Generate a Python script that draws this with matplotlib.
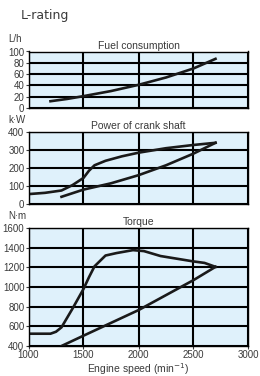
import numpy as np
import matplotlib.pyplot as plt

plt.rcParams['font.family'] = ['Liberation Sans', 'DejaVu Sans']

# fuel consumption (L/h)
fuel_rpm = [1200, 1350, 1500, 1750, 2000, 2250, 2500, 2700]
fuel_val = [12, 16, 21, 30, 41, 54, 70, 87]

# power of crank shaft (kW) - upper and lower curves
pow_up_rpm = [1000, 1150, 1300, 1400, 1500, 1550, 1600, 1700, 1850, 2000, 2250, 2500, 2700]
pow_up_val = [55, 62, 75, 105, 145, 185, 215, 240, 265, 285, 310, 328, 340]
pow_lo_rpm = [1300, 1500, 1750, 2000, 2250, 2500, 2700]
pow_lo_val = [40, 80, 115, 160, 215, 280, 340]

# torque (N.m)
tq_up_rpm = [1000, 1200, 1250, 1300, 1400, 1500, 1550, 1600, 1700, 1800, 1950, 2050, 2200, 2500, 2600, 2700]
tq_up_val = [525, 525, 545, 590, 780, 980, 1100, 1210, 1320, 1345, 1375, 1365, 1315, 1260, 1245, 1205]
tq_lo_rpm = [1300, 1500, 2000, 2500, 2700]
tq_lo_val = [400, 505, 765, 1070, 1205]

W, H = 260, 376
fig = plt.figure(figsize=(W / 100, H / 100), dpi=100)
txt = '#3a3a3a'
fill = '#dff1fb'
fs = 7

def panel(top, bot, ylim, yticks, title, unit, showx=False):
    ax = fig.add_axes([28.5 / W, 1 - bot / H, 220 / W, (bot - top) / H])
    ax.set_facecolor(fill)
    ax.set_xlim(1000, 3000)
    ax.set_ylim(*ylim)
    ax.set_xticks([1000, 1500, 2000, 2500, 3000])
    ax.set_yticks(yticks)
    ax.grid(True, color='black', lw=1.5)
    ax.set_axisbelow(True)
    for s in ax.spines.values():
        s.set_color('black')
        s.set_linewidth(1.0)
    ax.tick_params(labelsize=fs, colors=txt, length=2, width=0.8, pad=1)
    if not showx:
        ax.tick_params(axis='x', labelbottom=False, length=0)
    ax.set_title(title, fontsize=fs + 0.5, color=txt, pad=2)
    # unit label sits above the y tick labels
    fig.text(8 / W, 1 - (top - 7) / H, unit, fontsize=fs, color=txt, ha='left', va='bottom')
    return ax

ax1 = panel(51.5, 108, (0, 100), [0, 20, 40, 60, 80, 100], 'Fuel consumption', 'L/h')
ax1.plot(fuel_rpm, fuel_val, color='#1a1a1a', lw=1.9)

ax2 = panel(132, 204, (0, 400), [0, 100, 200, 300, 400], 'Power of crank shaft', 'k·W')
ax2.plot(pow_up_rpm, pow_up_val, color='#1a1a1a', lw=1.9)
ax2.plot(pow_lo_rpm, pow_lo_val, color='#1a1a1a', lw=1.9)

ax3 = panel(228, 346, (400, 1600), [400, 600, 800, 1000, 1200, 1400, 1600], 'Torque', 'N·m', showx=True)
ax3.plot(tq_up_rpm, tq_up_val, color='#1a1a1a', lw=1.9)
ax3.plot(tq_lo_rpm, tq_lo_val, color='#1a1a1a', lw=1.9)
ax3.set_xlabel('Engine speed (min$^{-1}$)', fontsize=fs + 0.5, color=txt, labelpad=1)

fig.text(21 / W, 1 - 15 / H, 'L-rating', fontsize=9, color=txt, ha='left', va='center',
         family='DejaVu Sans')

fig.savefig('out.png', dpi=100)
